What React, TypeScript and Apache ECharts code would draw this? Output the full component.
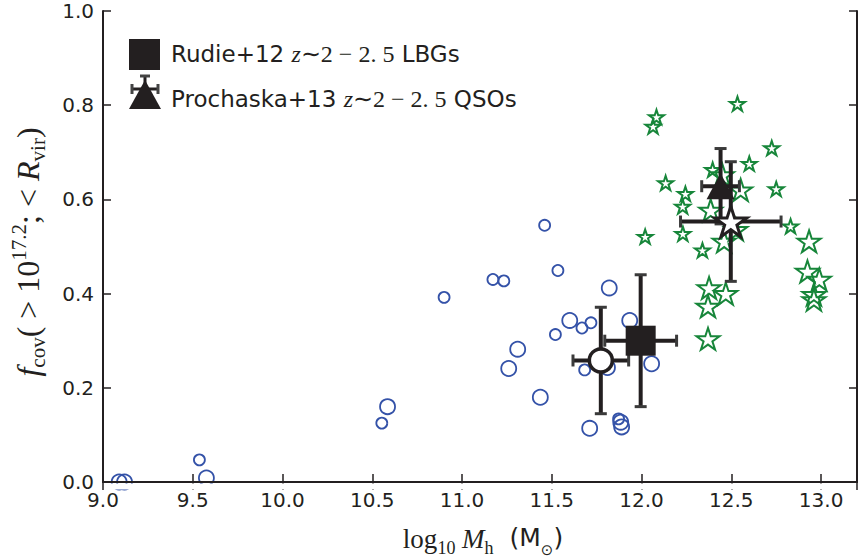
import React, { useEffect, useRef } from "react";
import * as echarts from "echarts";

// ---- data ----
const blueSmall: number[][] = [
  [9.537, 0.047], [10.553, 0.125], [10.9, 0.392], [11.172, 0.43], [11.233, 0.427],
  [11.46, 0.545], [11.534, 0.449], [11.668, 0.327], [11.718, 0.338], [11.52, 0.313],
  [11.683, 0.238], [11.872, 0.134],
];
const blueLarge: number[][] = [
  [9.09, 0.0], [9.12, 0.0], [9.576, 0.0085], [10.585, 0.16], [11.82, 0.412],
  [11.6, 0.343], [11.934, 0.343], [11.31, 0.282], [11.26, 0.241], [11.81, 0.243],
  [12.056, 0.251], [11.436, 0.18], [11.711, 0.114], [11.884, 0.127], [11.889, 0.117],
];
const greenSmall: number[][] = [
  [12.534, 0.803], [12.083, 0.775], [12.064, 0.755], [12.725, 0.709], [12.6, 0.676],
  [12.396, 0.663], [12.134, 0.635], [12.75, 0.622], [12.244, 0.612], [12.229, 0.585],
  [12.02, 0.521], [12.23, 0.527], [12.83, 0.543], [12.339, 0.492],
];
const greenLarge: number[][] = [
  [12.552, 0.62], [12.385, 0.577], [12.45, 0.652], [12.525, 0.536], [12.46, 0.511],
  [12.933, 0.511], [12.924, 0.447], [12.99, 0.43], [12.96, 0.398], [12.96, 0.387],
  [12.376, 0.412], [12.469, 0.4], [12.37, 0.373], [12.37, 0.304],
];
// mean points: [x, y, xErr, yErr]
const simCircle = [11.773, 0.258, 0.155, 0.113];
const simStar = [12.497, 0.553, 0.28, 0.127];
const rudie12 = [11.995, 0.3, 0.2, 0.14];
const prochaska13 = [12.44, 0.628, 0.105, 0.08];

const xTicks = [9.0, 9.5, 10.0, 10.5, 11.0, 11.5, 12.0, 12.5, 13.0];
const yTicks = [0.0, 0.2, 0.4, 0.6, 0.8, 1.0];

const BLUE = "#3452a8";
const GREEN = "#17863a";
const BLACK = "#231f20";
const STAR =
  "path://M50,0 L61.2,34.5 L97.6,34.5 L68.2,55.9 L79.4,90.5 L50,69.1 L20.6,90.5 L31.8,55.9 L2.4,34.5 L38.8,34.5 Z";

export default function App() {
  const ref = useRef<HTMLDivElement>(null);
  useEffect(() => {
    const chart = echarts.init(ref.current!, undefined, { renderer: "svg" });
    const axisLine = { lineStyle: { color: BLACK, width: 2 } };
    const tick = { inside: true, length: 8, lineStyle: { color: BLACK, width: 1.5 } };
    const isX = (v: number) => xTicks.some((t) => Math.abs(t - v) < 1e-6);
    const isY = (v: number) => yTicks.some((t) => Math.abs(t - v) < 1e-6);
    const labelFont = { fontFamily: "DejaVu Sans", fontSize: 20, color: BLACK };

    const errRender = (params: any, api: any) => {
      const x = api.value(0), y = api.value(1), ex = api.value(2), ey = api.value(3);
      const c = api.coord([x, y]);
      const l = api.coord([x - ex, y]);
      const r = api.coord([x + ex, y]);
      const t = api.coord([x, y + ey]);
      const b = api.coord([x, y - ey]);
      const cap = 6;
      const st = { stroke: BLACK, lineWidth: 4 };
      const cs = { stroke: "#3a3a3a", lineWidth: 3 };
      return {
        type: "group",
        children: [
          { type: "line", shape: { x1: l[0], y1: c[1], x2: r[0], y2: c[1] }, style: st },
          { type: "line", shape: { x1: c[0], y1: t[1], x2: c[0], y2: b[1] }, style: st },
          { type: "line", shape: { x1: l[0], y1: c[1] - cap, x2: l[0], y2: c[1] + cap }, style: cs },
          { type: "line", shape: { x1: r[0], y1: c[1] - cap, x2: r[0], y2: c[1] + cap }, style: cs },
          { type: "line", shape: { x1: c[0] - cap, y1: t[1], x2: c[0] + cap, y2: t[1] }, style: cs },
          { type: "line", shape: { x1: c[0] - cap, y1: b[1], x2: c[0] + cap, y2: b[1] }, style: cs },
        ],
      };
    };

    const serif = "Liberation Serif";
    const hollow = (col: string, w: number) => ({ color: "rgba(0,0,0,0)", borderColor: col, borderWidth: w, opacity: 1 });
    chart.setOption({
      animation: false,
      backgroundColor: "#ffffff",
      grid: { left: 103, right: 3, top: 11, bottom: 76, containLabel: false },
      xAxis: [
        {
          type: "value", min: 9, max: 13.2, interval: 0.5, position: "bottom",
          axisLine, axisTick: tick, splitLine: { show: false }, z: 6,
          axisLabel: { ...labelFont, margin: 8, formatter: (v: number) => (isX(v) ? v.toFixed(1) : "") },
        },
        {
          type: "value", min: 9, max: 13.2, interval: 0.5, position: "top",
          axisLine, axisTick: tick, splitLine: { show: false }, axisLabel: { show: false },
        },
      ],
      yAxis: [
        {
          type: "value", min: 0, max: 1, interval: 0.2, position: "left",
          axisLine, axisTick: tick, splitLine: { show: false },
          axisLabel: { ...labelFont, margin: 9, formatter: (v: number) => (isY(v) ? v.toFixed(1) : "") },
        },
        {
          type: "value", min: 0, max: 1, interval: 0.2, position: "right",
          axisLine, axisTick: tick, splitLine: { show: false }, axisLabel: { show: false },
        },
      ],
      series: [
        { type: "scatter", data: blueSmall, symbol: "circle", symbolSize: 11, itemStyle: hollow(BLUE, 1.8), z: 2 },
        { type: "scatter", data: blueLarge, symbol: "circle", symbolSize: 15, itemStyle: hollow(BLUE, 1.8), z: 2 },
        {
          type: "scatter", data: greenSmall, symbol: STAR, symbolSize: 15, symbolKeepAspect: true,
          itemStyle: hollow(GREEN, 2), z: 2,
        },
        {
          type: "scatter", data: greenLarge, symbol: STAR, symbolSize: 23, symbolKeepAspect: true,
          itemStyle: hollow(GREEN, 2), z: 2,
        },
        {
          type: "custom", renderItem: errRender, encode: { x: 0, y: 1 },
          data: [simCircle, rudie12, prochaska13, simStar], z: 3,
        },
        {
          type: "scatter", data: [[simCircle[0], simCircle[1]]], symbol: "circle", symbolSize: 23,
          itemStyle: { color: "#ffffff", borderColor: BLACK, borderWidth: 3.5, opacity: 1 }, z: 4,
        },
        {
          type: "scatter", data: [[rudie12[0], rudie12[1]]], symbol: "rect", symbolSize: 30,
          itemStyle: { color: BLACK, opacity: 1 }, z: 4,
        },
        {
          type: "scatter", data: [[prochaska13[0], prochaska13[1]]], symbol: "triangle", symbolSize: [28, 26],
          itemStyle: { color: BLACK, opacity: 1 }, z: 4,
        },
        {
          type: "scatter", data: [[simStar[0], simStar[1]]], symbol: STAR, symbolSize: 32, symbolKeepAspect: true,
          itemStyle: { color: "#ffffff", borderColor: BLACK, borderWidth: 3, opacity: 1 }, z: 5,
        },
      ],
      graphic: [
        // mask for markers overflowing below the bottom spine (axes clipping)
        { type: "rect", shape: { x: 104, y: 483.4, width: 752, height: 6 }, style: { fill: "#ffffff" }, z: 5 },
        { type: "rect", shape: { x: 129, y: 39, width: 31, height: 31 }, style: { fill: BLACK }, z: 10 },
        { type: "line", shape: { x1: 131, y1: 89, x2: 159, y2: 89 }, style: { stroke: BLACK, lineWidth: 3 }, z: 10 },
        { type: "line", shape: { x1: 132, y1: 84, x2: 132, y2: 94 }, style: { stroke: "#444", lineWidth: 3 }, z: 10 },
        { type: "line", shape: { x1: 158, y1: 84, x2: 158, y2: 94 }, style: { stroke: "#444", lineWidth: 3 }, z: 10 },
        { type: "line", shape: { x1: 145, y1: 76, x2: 145, y2: 108 }, style: { stroke: BLACK, lineWidth: 3 }, z: 10 },
        { type: "line", shape: { x1: 140, y1: 76, x2: 150, y2: 76 }, style: { stroke: "#444", lineWidth: 3 }, z: 10 },
        { type: "polygon", shape: { points: [[145, 80], [129, 109], [161, 109]] }, style: { fill: BLACK }, z: 10 },
        {
          type: "text", x: 171, y: 54, z: 10,
          style: {
            text: "{s|Rudie+12 }{i|z}{m|∼2 − 2. 5}{s| LBGs}",
            verticalAlign: "middle", align: "left",
            rich: {
              s: { fontFamily: "DejaVu Sans", fontSize: 23, fill: BLACK },
              i: { fontFamily: serif, fontStyle: "italic", fontSize: 24, fill: BLACK },
              m: { fontFamily: serif, fontSize: 24, fill: BLACK },
            },
          },
        },
        {
          type: "text", x: 171, y: 99, z: 10,
          style: {
            text: "{s|Prochaska+13 }{i|z}{m|∼2 − 2. 5}{s| QSOs}",
            verticalAlign: "middle", align: "left",
            rich: {
              s: { fontFamily: "DejaVu Sans", fontSize: 23, fill: BLACK },
              i: { fontFamily: serif, fontStyle: "italic", fontSize: 24, fill: BLACK },
              m: { fontFamily: serif, fontSize: 24, fill: BLACK },
            },
          },
        },
        {
          type: "text", x: 483, y: 541, z: 10,
          style: {
            text: "{a|log}{b|10}{a| }{i|M}{b|h}{s|  (M}{o|⊙}{s|)}",
            align: "center", verticalAlign: "middle",
            rich: {
              a: { fontFamily: serif, fontSize: 27, fill: BLACK, verticalAlign: "top", lineHeight: 32 },
              i: { fontFamily: serif, fontStyle: "italic", fontSize: 27, fill: BLACK, verticalAlign: "top", lineHeight: 32 },
              b: { fontFamily: serif, fontSize: 18, fill: BLACK, verticalAlign: "bottom", lineHeight: 32 },
              s: { fontFamily: "DejaVu Sans", fontSize: 25, fill: BLACK, verticalAlign: "top", lineHeight: 32 },
              o: { fontFamily: "DejaVu Sans", fontSize: 15, fill: BLACK, verticalAlign: "bottom", lineHeight: 32 },
            },
          },
        },
        {
          type: "text", x: 28, y: 252, rotation: Math.PI / 2, z: 10,
          style: {
            text: "{i|f}{b|cov}{a|( > 10}{p|17.2}{a|; < }{i|R}{b|vir}{a|)}",
            align: "center", verticalAlign: "middle",
            rich: {
              a: { fontFamily: serif, fontSize: 32, fill: BLACK, verticalAlign: "middle", lineHeight: 40 },
              i: { fontFamily: serif, fontStyle: "italic", fontSize: 32, fill: BLACK, verticalAlign: "middle", lineHeight: 40 },
              b: { fontFamily: serif, fontSize: 21, fill: BLACK, verticalAlign: "bottom", lineHeight: 40 },
              p: { fontFamily: serif, fontSize: 21, fill: BLACK, verticalAlign: "top", lineHeight: 40 },
            },
          },
        },
      ],
    });
    return () => chart.dispose();
  }, []);
  return (
    <div
      ref={ref}
      style={{ position: "absolute", left: 0, top: 0, width: 860, height: 558, background: "#fff" }}
    />
  );
}
